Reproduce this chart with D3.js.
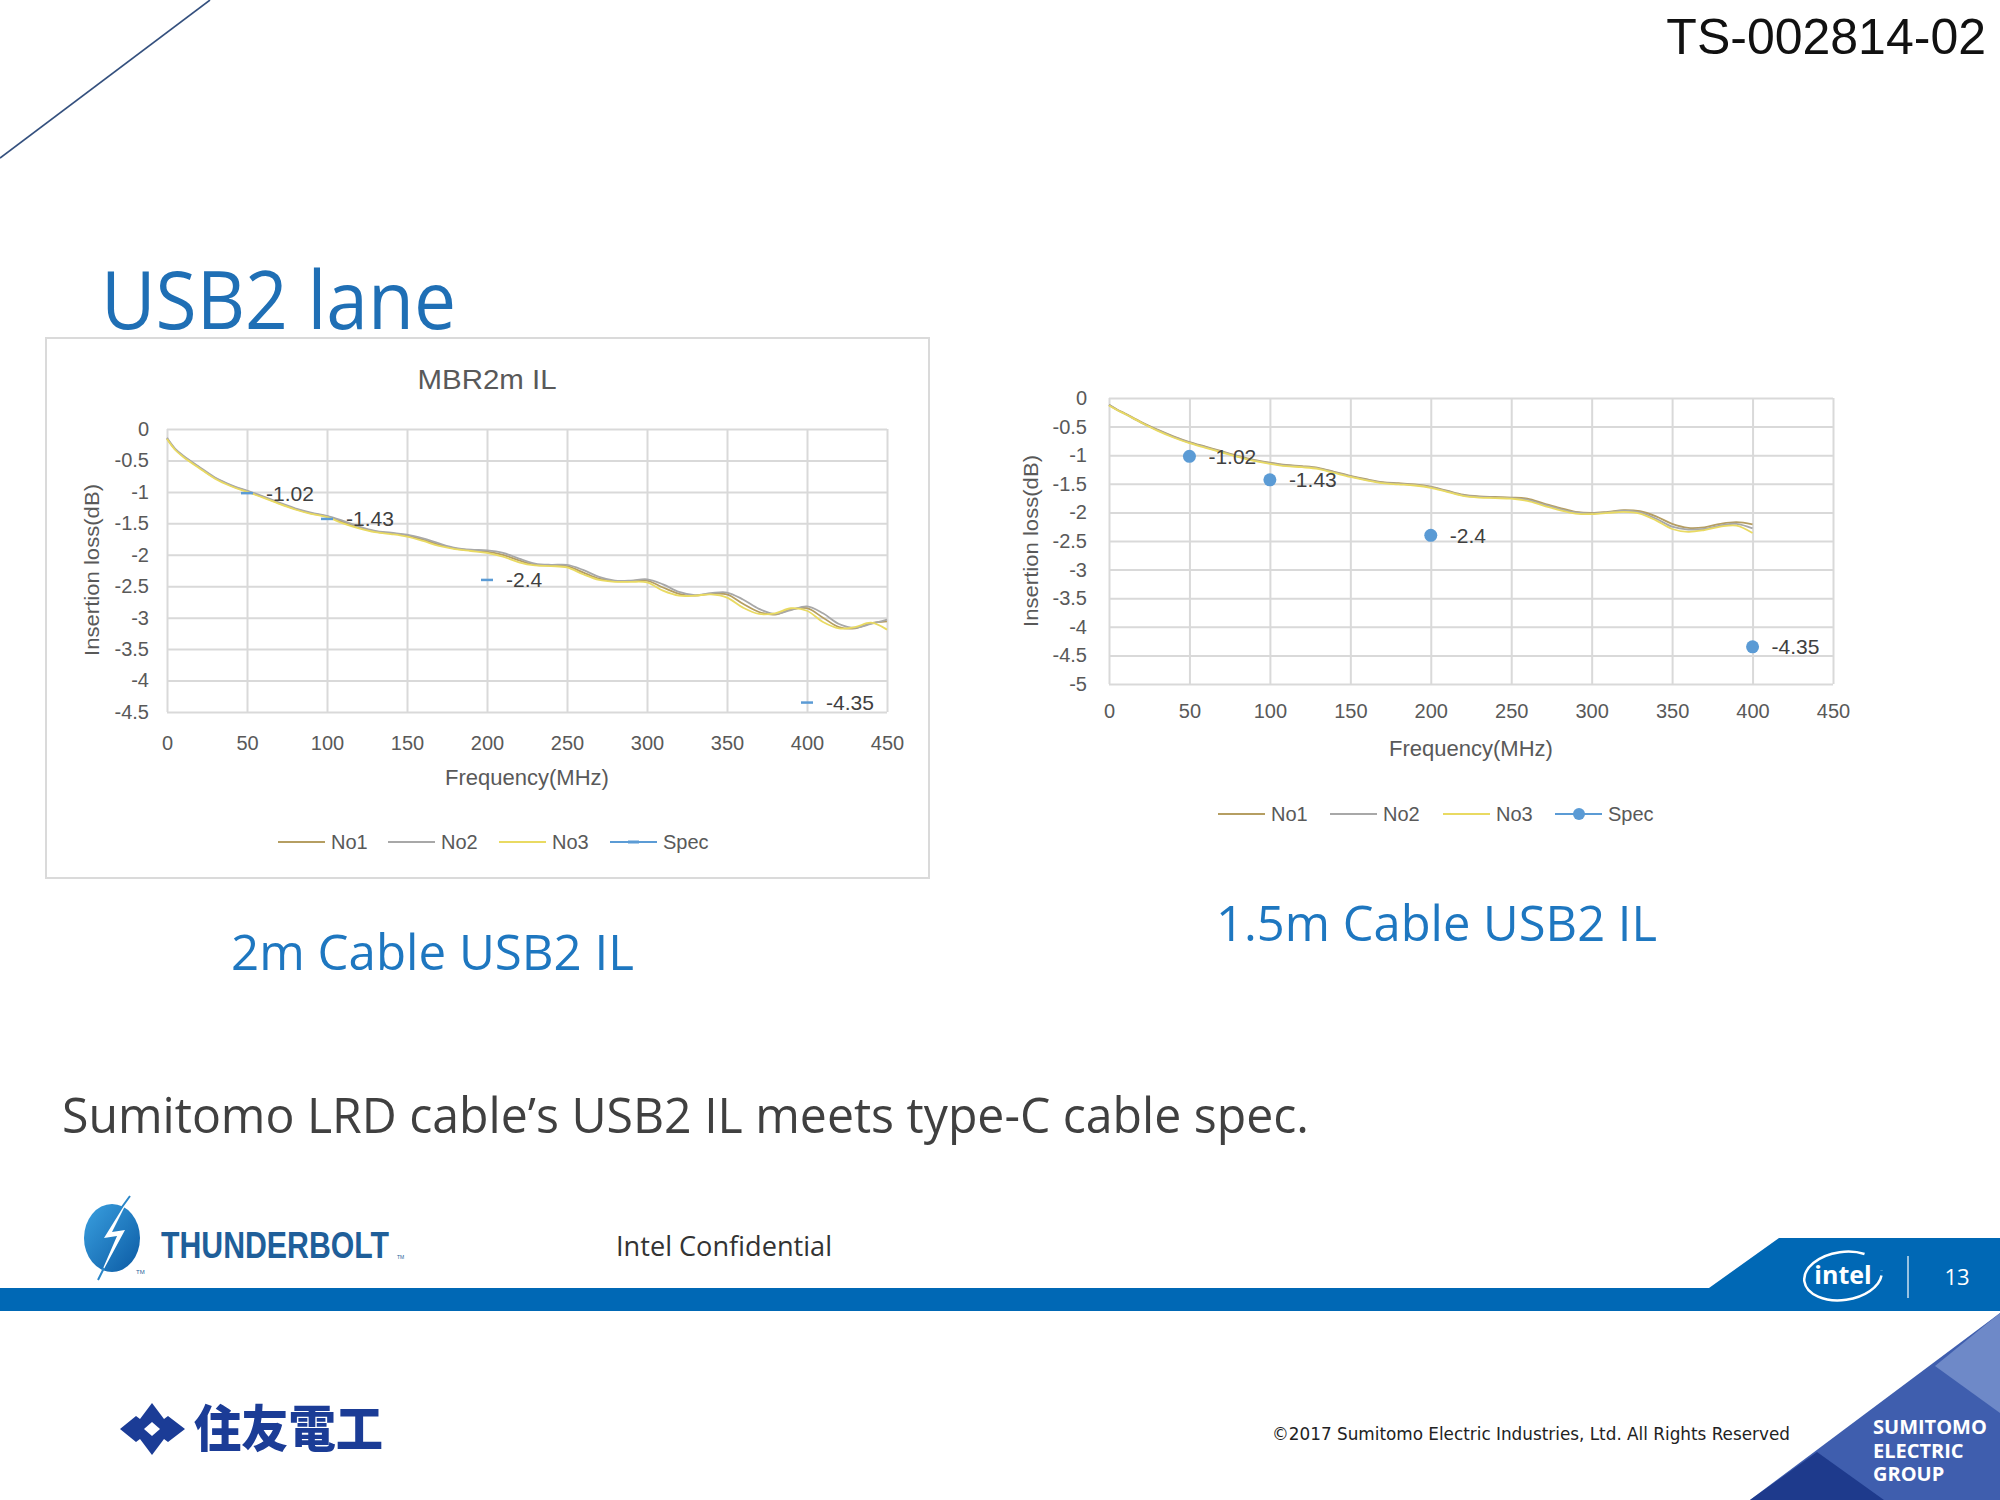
<!DOCTYPE html>
<html><head><meta charset="utf-8">
<script src="https://cdn.jsdelivr.net/npm/d3@7/dist/d3.min.js"></script>
<style>body{margin:0;background:#fff}svg{display:block}</style>
</head><body>
<svg id="c" width="2000" height="1500"></svg>
<script>
// ---------- DATA ----------
const freq2m = [0,5,10,20,30,40,50,60,70,80,90,100,110,120,130,140,150,160,170,180,190,200,210,220,230,240,250,260,270,280,290,300,310,320,330,340,350,360,370,380,390,400,410,420,430,440,450];
const no1_2m = [-0.15,-0.32,-0.43,-0.61,-0.78,-0.90,-0.99,-1.08,-1.18,-1.27,-1.34,-1.39,-1.48,-1.57,-1.63,-1.66,-1.69,-1.76,-1.84,-1.90,-1.93,-1.95,-2.00,-2.09,-2.16,-2.17,-2.18,-2.28,-2.38,-2.42,-2.42,-2.41,-2.52,-2.62,-2.65,-2.62,-2.63,-2.78,-2.91,-2.95,-2.87,-2.85,-3.00,-3.15,-3.17,-3.09,-3.06];
const no2_2m = [-0.14,-0.31,-0.42,-0.60,-0.77,-0.89,-0.98,-1.07,-1.17,-1.26,-1.33,-1.38,-1.46,-1.55,-1.62,-1.65,-1.68,-1.74,-1.82,-1.89,-1.92,-1.93,-1.97,-2.06,-2.14,-2.16,-2.16,-2.24,-2.35,-2.41,-2.41,-2.39,-2.47,-2.59,-2.64,-2.61,-2.60,-2.71,-2.86,-2.94,-2.88,-2.82,-2.93,-3.10,-3.16,-3.10,-3.03];
const no3_2m = [-0.16,-0.33,-0.44,-0.62,-0.79,-0.91,-1.00,-1.09,-1.19,-1.28,-1.35,-1.40,-1.50,-1.58,-1.64,-1.67,-1.71,-1.78,-1.86,-1.91,-1.94,-1.97,-2.03,-2.12,-2.17,-2.18,-2.20,-2.31,-2.40,-2.43,-2.43,-2.44,-2.57,-2.65,-2.65,-2.63,-2.68,-2.84,-2.94,-2.93,-2.85,-2.89,-3.07,-3.17,-3.15,-3.08,-3.19];

const freq15m = [0,5,10,20,30,40,50,60,70,80,90,100,110,120,130,140,150,160,170,180,190,200,210,220,230,240,250,260,270,280,290,300,310,320,330,340,350,360,370,380,390,400];
const no1_15m = [-0.12,-0.20,-0.27,-0.42,-0.55,-0.67,-0.77,-0.85,-0.93,-1.01,-1.08,-1.13,-1.17,-1.19,-1.22,-1.29,-1.36,-1.42,-1.47,-1.49,-1.51,-1.55,-1.62,-1.69,-1.72,-1.73,-1.74,-1.76,-1.84,-1.92,-1.99,-2.01,-1.99,-1.96,-1.98,-2.07,-2.20,-2.27,-2.26,-2.20,-2.17,-2.21];
const no2_15m = [-0.12,-0.21,-0.28,-0.43,-0.56,-0.68,-0.78,-0.86,-0.94,-1.02,-1.09,-1.14,-1.18,-1.20,-1.23,-1.30,-1.37,-1.43,-1.48,-1.50,-1.52,-1.56,-1.63,-1.70,-1.73,-1.74,-1.75,-1.78,-1.86,-1.94,-2.00,-2.02,-2.00,-1.97,-2.00,-2.11,-2.25,-2.30,-2.29,-2.23,-2.20,-2.28];
const no3_15m = [-0.13,-0.21,-0.28,-0.43,-0.57,-0.69,-0.79,-0.87,-0.95,-1.03,-1.10,-1.15,-1.19,-1.21,-1.24,-1.31,-1.38,-1.44,-1.49,-1.51,-1.53,-1.57,-1.64,-1.71,-1.74,-1.75,-1.76,-1.80,-1.88,-1.96,-2.02,-2.03,-2.01,-1.99,-2.02,-2.14,-2.29,-2.34,-2.31,-2.25,-2.23,-2.36];

const specFreq = [50,100,200,400];
const specVal  = [-1.02,-1.43,-2.4,-4.35];

const xTicks = [0,50,100,150,200,250,300,350,400,450];
const yTicks2m = [0,-0.5,-1,-1.5,-2,-2.5,-3,-3.5,-4,-4.5];
const yTicks15m = [0,-0.5,-1,-1.5,-2,-2.5,-3,-3.5,-4,-4.5,-5];
const seriesNames = ["No1","No2","No3","Spec"];
const seriesColors = ["#B59E62","#A8A8A8","#E9DA62","#5B9BD5"];

// ---------- DRAW ----------
const svg = d3.select("#c");
const chartFont = "'Liberation Sans Narrow','Liberation Sans',Arial,sans-serif";
const slideFont = "'Open Sans','Noto Sans',sans-serif";

svg.append("line").attr("x1",0).attr("y1",158).attr("x2",210).attr("y2",0)
  .attr("stroke","#34507E").attr("stroke-width",1.6);

svg.append("text").attr("x",1986).attr("y",54).attr("text-anchor","end")
  .attr("font-family","'Liberation Sans',Arial,sans-serif").attr("font-size",50)
  .attr("fill","#111").text("TS-002814-02");

svg.append("text").attr("x",101).attr("y",329).attr("font-family",slideFont)
  .attr("font-size",80).attr("fill","#1F6FB5").attr("textLength",355)
  .attr("lengthAdjust","spacingAndGlyphs").text("USB2 lane");

svg.append("rect").attr("x",46).attr("y",338).attr("width",883).attr("height",540)
  .attr("fill","none").attr("stroke","#DADADA").attr("stroke-width",2);
svg.append("text").attr("x",487).attr("y",389).attr("text-anchor","middle")
  .attr("font-family",chartFont).attr("font-size",27).attr("fill","#595959")
  .attr("textLength",139).attr("lengthAdjust","spacingAndGlyphs").text("MBR2m IL");

function drawChart(cfg){
  const g = svg.append("g");
  const x = d3.scaleLinear().domain([0,450]).range([cfg.x0,cfg.x1]);
  const y = d3.scaleLinear().domain([0,cfg.ymin]).range([cfg.y0,cfg.y1]);
  const ya = d3.axisLeft(y).tickValues(cfg.yTicks).tickSize(-(cfg.x1-cfg.x0)).tickPadding(cfg.yPad)
     .tickFormat(d=>d===0?"0":String(d));
  const yg = g.append("g").attr("transform",`translate(${cfg.x0},0)`).call(ya);
  yg.select(".domain").remove();
  yg.selectAll(".tick line").attr("stroke","#D9D9D9").attr("stroke-width",2);
  yg.selectAll(".tick text").attr("font-family",chartFont).attr("font-size",20).attr("fill","#595959");
  const xa = d3.axisBottom(x).tickValues(xTicks).tickSize(-(cfg.y1-cfg.y0)).tickPadding(cfg.xPad);
  const xg = g.append("g").attr("transform",`translate(0,${cfg.y1})`).call(xa);
  xg.select(".domain").remove();
  xg.selectAll(".tick line").attr("stroke","#D9D9D9").attr("stroke-width",2);
  xg.selectAll(".tick text").attr("font-family",chartFont).attr("font-size",20).attr("fill","#595959");

  const line = d3.line().x(d=>x(d[0])).y(d=>y(d[1])).curve(d3.curveCatmullRom);
  cfg.series.forEach((s,i)=>{
    g.append("path").datum(cfg.freq.map((f,k)=>[f,s[k]]))
      .attr("d",line).attr("fill","none").attr("stroke",seriesColors[i]).attr("stroke-width",1.8);
  });
  specFreq.forEach((f,k)=>{
    if(cfg.marker==="dash"){
      g.append("line").attr("x1",x(f)-6).attr("x2",x(f)+6).attr("y1",y(specVal[k])).attr("y2",y(specVal[k]))
        .attr("stroke",seriesColors[3]).attr("stroke-width",2.5);
    } else {
      g.append("circle").attr("cx",x(f)).attr("cy",y(specVal[k])).attr("r",6.5).attr("fill",seriesColors[3]);
    }
    g.append("text").attr("x",x(f)+19).attr("y",y(specVal[k])).attr("dy","0.36em")
      .attr("font-family",chartFont).attr("font-size",21).attr("fill","#404040").text(String(specVal[k]));
  });
  g.append("text").attr("x",(cfg.x0+cfg.x1)/2).attr("y",cfg.xTitleY).attr("text-anchor","middle")
    .attr("font-family",chartFont).attr("font-size",22).attr("fill","#595959").text("Frequency(MHz)");
  g.append("text").attr("transform",`translate(${cfg.yTitleX},${cfg.yTitleY}) rotate(-90)`)
    .attr("text-anchor","middle").attr("dy","0.35em")
    .attr("font-family","'Liberation Sans',Arial,sans-serif").attr("font-size",21).attr("fill","#595959")
    .attr("textLength",172).attr("lengthAdjust","spacingAndGlyphs")
    .text("Insertion loss(dB)");
  seriesNames.forEach((n,i)=>{
    const lx = cfg.legX[i];
    g.append("line").attr("x1",lx).attr("x2",lx+47).attr("y1",cfg.legY).attr("y2",cfg.legY)
      .attr("stroke",seriesColors[i]).attr("stroke-width",2);
    if(i===3){
      if(cfg.marker==="dash") g.append("line").attr("x1",lx+18).attr("x2",lx+29).attr("y1",cfg.legY).attr("y2",cfg.legY)
        .attr("stroke",seriesColors[3]).attr("stroke-width",3);
      else g.append("circle").attr("cx",lx+24).attr("cy",cfg.legY).attr("r",6).attr("fill",seriesColors[3]);
    }
    g.append("text").attr("x",lx+53).attr("y",cfg.legY).attr("dy","0.36em")
      .attr("font-family","'Liberation Sans',Arial,sans-serif").attr("font-size",20).attr("fill","#595959").text(n);
  });
}

drawChart({x0:167,x1:887,y0:429,y1:712,ymin:-4.5,yTicks:yTicks2m,yPad:18,xPad:24,
  freq:freq2m,series:[no1_2m,no2_2m,no3_2m],marker:"dash",xTitleY:785,yTitleX:92,yTitleY:570,
  legX:[278,388,499,610],legY:842});
drawChart({x0:1109,x1:1833,y0:398,y1:684,ymin:-5,yTicks:yTicks15m,yPad:22,xPad:20,
  freq:freq15m,series:[no1_15m,no2_15m,no3_15m],marker:"dot",xTitleY:756,yTitleX:1031,yTitleY:541,
  legX:[1218,1330,1443,1555],legY:814});

svg.append("text").attr("x",231).attr("y",970).attr("font-family",slideFont).attr("font-size",50)
  .attr("fill","#1E77C0").attr("textLength",403).attr("lengthAdjust","spacingAndGlyphs").text("2m Cable USB2 IL");
svg.append("text").attr("x",1216).attr("y",941).attr("font-family",slideFont).attr("font-size",50)
  .attr("fill","#1E77C0").attr("textLength",441).attr("lengthAdjust","spacingAndGlyphs").text("1.5m Cable USB2 IL");
svg.append("text").attr("x",62).attr("y",1133).attr("font-family",slideFont).attr("font-size",50)
  .attr("fill","#404040").attr("textLength",1247).attr("lengthAdjust","spacingAndGlyphs")
  .text("Sumitomo LRD cable\u2019s USB2 IL meets type-C cable spec.");

svg.append("path").attr("d","M0,1288 L1709,1288 L1779,1238 L2000,1238 L2000,1311 L0,1311 Z").attr("fill","#0068B5");

const tg = svg.append("defs").append("linearGradient").attr("id","tb").attr("x1",0).attr("y1",0).attr("x2",1).attr("y2",1);
tg.append("stop").attr("offset","0").attr("stop-color","#3AA0E0");
tg.append("stop").attr("offset","1").attr("stop-color","#0B5AA3");
svg.append("ellipse").attr("cx",112).attr("cy",1238).attr("rx",28).attr("ry",34).attr("fill","url(#tb)");
svg.append("path").attr("d","M130,1196 L104,1238 L117,1236 L98,1280 L125,1230 L112,1232 Z").attr("fill","#fff");
svg.append("path").attr("d","M130,1196 L122,1207 M98,1280 L104,1268").attr("stroke","#2A86C8").attr("stroke-width",2);
svg.append("text").attr("x",161).attr("y",1258)
  .attr("font-family","'Liberation Sans Narrow','Liberation Sans',sans-serif").attr("fill","#1F5F9A")
  .attr("font-weight","bold").attr("font-size",37).attr("textLength",228)
  .attr("lengthAdjust","spacingAndGlyphs").text("THUNDERBOLT");
svg.append("text").attr("x",397).attr("y",1259).attr("font-family","sans-serif").attr("font-size",5).attr("fill","#1F5F9A").text("TM");
svg.append("text").attr("x",136).attr("y",1274).attr("font-family","sans-serif").attr("font-size",6).attr("fill","#1F5F9A").text("TM");

svg.append("text").attr("x",616).attr("y",1256).attr("font-family",slideFont).attr("font-size",28)
  .attr("fill","#333").attr("textLength",216).attr("lengthAdjust","spacingAndGlyphs").text("Intel Confidential");

svg.append("ellipse").attr("cx",1843).attr("cy",1276).attr("rx",39).attr("ry",24).attr("fill","none")
  .attr("stroke","#fff").attr("stroke-width",2.5).attr("stroke-dasharray","170 25").attr("stroke-dashoffset",-5)
  .attr("transform","rotate(-8,1843,1276)");
svg.append("text").attr("x",1843).attr("y",1284).attr("text-anchor","middle").attr("font-family","'Open Sans',sans-serif")
  .attr("font-weight","bold").attr("font-size",25).attr("fill","#fff").text("intel");
svg.append("line").attr("x1",1908).attr("x2",1908).attr("y1",1256).attr("y2",1298).attr("stroke","#fff").attr("stroke-width",1.5).attr("opacity",0.8);
svg.append("text").attr("x",1957).attr("y",1285).attr("text-anchor","middle").attr("font-family","'Open Sans',sans-serif")
  .attr("font-size",22).attr("fill","#fff").text("13");

svg.append("path").attr("d","M120,1429 L136,1416 L140,1419 L152,1403 L164,1419 L168,1416 L185,1429 L168,1442 L164,1439 L152,1455 L140,1439 L136,1442 Z").attr("fill","#1B3C96");
svg.append("path").attr("d","M144,1429 L152,1422 L160,1429 L152,1436 Z").attr("fill","#fff");
svg.append("text").attr("x",194).attr("y",1447).attr("font-family","'Noto Sans CJK JP',sans-serif")
  .attr("font-weight",900).attr("font-size",50).attr("fill","#1B3C96").attr("textLength",189)
  .attr("lengthAdjust","spacingAndGlyphs").text("住友電工");

svg.append("text").attr("x",1272).attr("y",1440).attr("font-family","'DejaVu Sans',sans-serif").attr("font-size",18)
  .attr("fill","#222").attr("textLength",518).attr("lengthAdjust","spacingAndGlyphs")
  .text("\u00A92017 Sumitomo Electric Industries, Ltd. All Rights Reserved");

svg.append("path").attr("d","M1750,1500 L2000,1313 L2000,1500 Z").attr("fill","#3F5EAE");
svg.append("path").attr("d","M2000,1313 L1935,1366 L2000,1413 Z").attr("fill","#6E89C8");
svg.append("path").attr("d","M1750,1500 L1817,1452 L1884,1500 Z").attr("fill","#1E3A8C");
["SUMITOMO","ELECTRIC","GROUP"].forEach((t,i)=>{
  svg.append("text").attr("x",1873).attr("y",1434+i*23.5).attr("font-family","'Open Sans',sans-serif")
    .attr("font-weight","bold").attr("font-size",20).attr("fill","#fff").text(t);
});
</script>
</body></html>
